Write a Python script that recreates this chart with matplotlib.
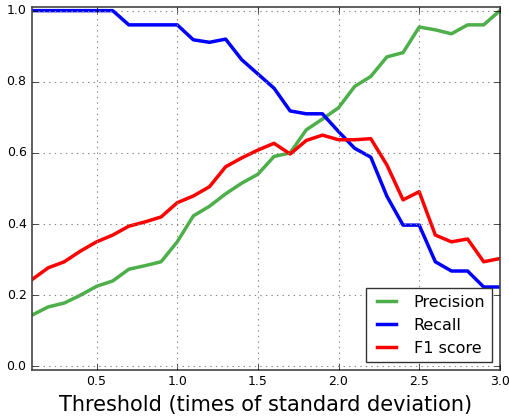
import matplotlib
matplotlib.use("Agg")
import matplotlib.pyplot as plt

thresholds = [round(0.1 * i, 1) for i in range(1, 31)]
precision = [0.144, 0.167, 0.178, 0.200, 0.225, 0.240, 0.273, 0.283, 0.294, 0.350,
             0.423, 0.450, 0.485, 0.515, 0.540, 0.590, 0.600, 0.665, 0.695, 0.727,
             0.787, 0.815, 0.870, 0.882, 0.954, 0.946, 0.935, 0.960, 0.960, 1.000]
recall = [1.000, 1.000, 1.000, 1.000, 1.000, 1.000, 0.960, 0.960, 0.960, 0.960,
          0.918, 0.911, 0.920, 0.862, 0.822, 0.782, 0.718, 0.710, 0.710, 0.660,
          0.613, 0.588, 0.478, 0.397, 0.397, 0.294, 0.268, 0.268, 0.223, 0.223]
f1 = [0.244, 0.277, 0.294, 0.324, 0.350, 0.369, 0.394, 0.406, 0.420, 0.460,
      0.479, 0.505, 0.561, 0.586, 0.608, 0.627, 0.597, 0.635, 0.650, 0.637,
      0.637, 0.640, 0.566, 0.468, 0.491, 0.369, 0.350, 0.358, 0.294, 0.303]

plt.style.use("classic")
fig = plt.figure(figsize=(5.09, 4.17), dpi=100, facecolor="white")
ax = fig.add_axes([0.063, 0.113, 0.919, 0.870])

ax.plot(thresholds, precision, color="#4daf4a", lw=2.5, label="Precision")
ax.plot(thresholds, recall, color="#0000ff", lw=2.5, label="Recall")
ax.plot(thresholds, f1, color="#ff0000", lw=2.5, label="F1 score")

ax.set_xlim(0.1, 3.0)
ax.set_ylim(-0.01, 1.01)
ax.set_xticks([0.5, 1.0, 1.5, 2.0, 2.5, 3.0])
ax.set_yticks([0.0, 0.2, 0.4, 0.6, 0.8, 1.0])
ax.tick_params(labelsize=9)
ax.grid(True, color="#888888", linestyle=":", linewidth=0.8)
for s in ax.spines.values():
    s.set_color("#444444")
    s.set_linewidth(1.2)

ax.set_xlabel("Threshold (times of standard deviation)", fontsize=15)
leg = ax.legend(loc="lower right", fontsize=11.5, handlelength=1.8, borderaxespad=0.5)
leg.get_frame().set_edgecolor("#333333")

fig.savefig("out.png", dpi=100, facecolor="white")
